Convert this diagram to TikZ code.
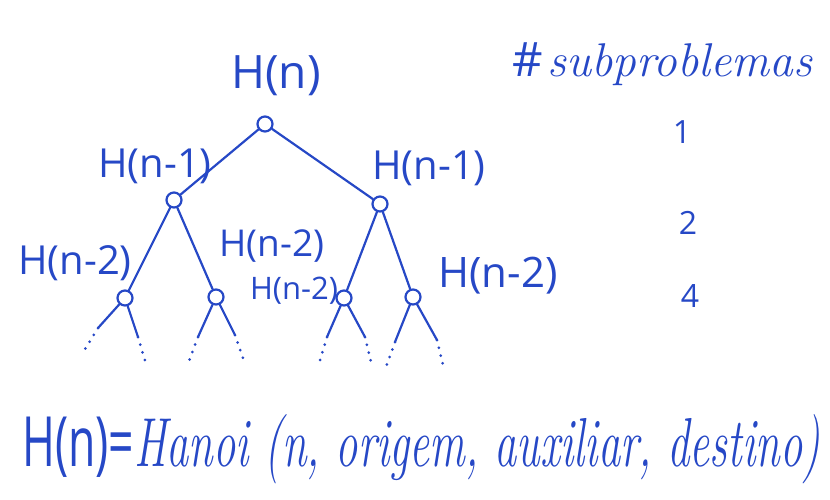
\documentclass[tikz,border=0pt]{standalone}
\usepackage{fontspec}
\newfontfamily\hand{Open Sans}
\definecolor{handblue}{RGB}{38,72,198}
\tikzset{
  vtx/.style={circle,draw=handblue,line width=2.2pt,minimum size=15pt,inner sep=0pt},
  edge/.style={draw=handblue,line width=2.2pt,line cap=round},
  dotsline/.style={draw=handblue,line width=3pt,line cap=round,dash pattern=on 0pt off 8pt},
  lbl/.style={text=handblue,inner sep=0pt,font=\hand},
}
\newcommand{\fs}[1]{\fontsize{#1}{#1}\selectfont}
\begin{document}
\begin{tikzpicture}[x=1pt,y=-1pt]
\useasboundingbox (0,0) rectangle (830,499);
% tree nodes
\node[vtx] (r) at (265,124) {};
\node[vtx] (l) at (174,200) {};
\node[vtx] (rr) at (380,204) {};
\node[vtx] (a) at (125,298) {};
\node[vtx] (b) at (216,297) {};
\node[vtx] (c) at (344,298) {};
\node[vtx] (d) at (413,297) {};
\draw[edge] (r) -- (l);
\draw[edge] (r) -- (rr);
\draw[edge] (l) -- (a);
\draw[edge] (l) -- (b);
\draw[edge] (rr) -- (c);
\draw[edge] (rr) -- (d);
% leaf stubs
\coordinate (a1) at (98,328);  \coordinate (a1d) at (82,354);
\coordinate (a2) at (138,337); \coordinate (a2d) at (146,364);
\coordinate (b1) at (198,337); \coordinate (b1d) at (188,364);
\coordinate (b2) at (235,335); \coordinate (b2d) at (245,364);
\coordinate (c1) at (327,337); \coordinate (c1d) at (318,367);
\coordinate (c2) at (365,337); \coordinate (c2d) at (372,366);
\coordinate (d1) at (395,342); \coordinate (d1d) at (386,367);
\coordinate (d2) at (437,340); \coordinate (d2d) at (443,365);
\foreach \p in {a,b,c,d}{
  \draw[edge] (\p) -- (\p1);
  \draw[edge] (\p) -- (\p2);
  \draw[dotsline] (\p1) -- (\p1d);
  \draw[dotsline] (\p2) -- (\p2d);
}
% labels
\node[lbl,font=\hand\fs{46}] (tn) at (276,76) {H(n)};
\node[lbl,font=\hand\fs{40}] (tl) at (155,166) {H(n-1)};
\node[lbl,font=\hand\fs{40}] (tr) at (429,168) {H(n-1)};
\node[lbl,font=\hand\fs{40}] (ta) at (75,263) {H(n-2)};
\node[lbl,font=\hand\fs{37}] (tb) at (272,246) {H(n-2)};
\node[lbl,font=\hand\fs{31}] (tc) at (294,291) {H(n-2)};
\node[lbl,font=\hand\fs{42}] (td) at (498,276) {H(n-2)};
% subproblem counts
\node[lbl,anchor=base west] (sub) at (512,76) {\resizebox{300pt}{!}{\hand\fs{40}\#\kern4pt{\rmfamily\itshape subproblemas}}};
\node[lbl,font=\hand\fs{32}] (n1) at (682,132) {1};
\node[lbl,font=\hand\fs{32}] (n2) at (688,223) {2};
\node[lbl,font=\hand\fs{32}] (n4) at (690,296) {4};
% formula
\node[lbl,anchor=base west] (f) at (22,466) {\resizebox{798pt}{52pt}{\hand\fs{50}H(n)={\rmfamily\itshape Hanoi (n, origem, auxiliar, destino)}}};
\end{tikzpicture}
\end{document}
